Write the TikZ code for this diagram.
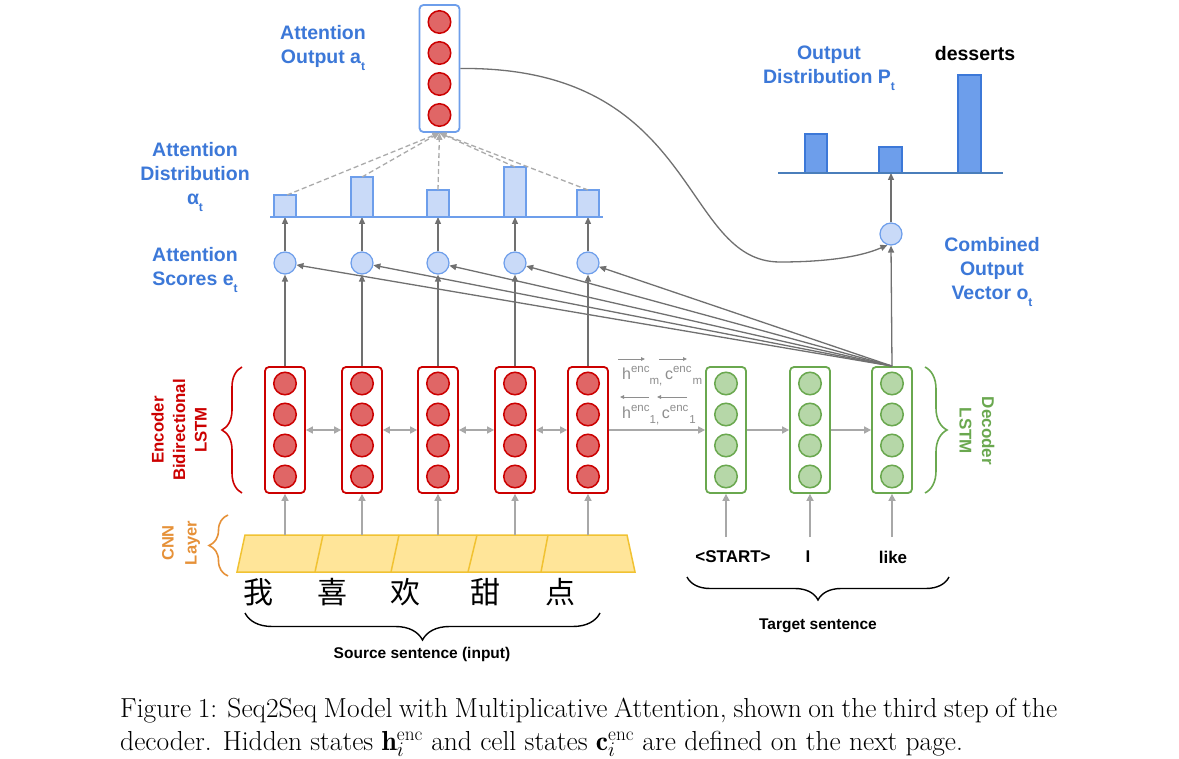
\documentclass[tikz,border=0pt]{standalone}
\usepackage{fontspec}
\newfontfamily\labfont{Liberation Sans}
\newfontfamily\cjk{Noto Sans CJK SC}
\usetikzlibrary{arrows.meta,decorations.pathreplacing,calc}

\definecolor{encred}{HTML}{CC0000}
\definecolor{encfill}{HTML}{E06666}
\definecolor{decgreen}{HTML}{6AA84F}
\definecolor{decfill}{HTML}{B6D7A8}
\definecolor{scoreline}{HTML}{6D9EEB}
\definecolor{scorefill}{HTML}{C9DAF8}
\definecolor{labblue}{HTML}{3C78D8}
\definecolor{outbar}{HTML}{6D9EEB}
\definecolor{outedge}{HTML}{3C78D8}
\definecolor{outbase}{HTML}{4A7EBB}
\definecolor{cnnfill}{HTML}{FFE599}
\definecolor{cnnedge}{HTML}{F1C232}
\definecolor{cnnlab}{HTML}{E69138}
\definecolor{lgray}{HTML}{A8A8A8}
\definecolor{dgray}{HTML}{707070}
\definecolor{dashgray}{HTML}{ABABAB}
\definecolor{vecgray}{HTML}{8E8E8E}

\newcommand\fsz[2]{\fontsize{#1}{#2}\selectfont}
\newcommand\lowsub[1]{\raisebox{-0.38em}{\fsz{12}{12}#1}}
\newcommand\supx[1]{\raisebox{7pt}{\fsz{11.5}{12}#1}}
\newcommand\subx[1]{\raisebox{-5pt}{\fsz{11.5}{12}#1}}

\begin{document}
\begin{tikzpicture}[x=1pt,y=-1pt,
  encbox/.style={draw=encred,line width=1.8pt,rounded corners=4pt,fill=white,
    minimum width=40pt,minimum height=126pt,inner sep=0pt},
  decbox/.style={encbox,draw=decgreen},
  aobox/.style={encbox,draw=scoreline,minimum height=127pt},
  redball/.style={circle,minimum size=22.5pt,inner sep=0pt,fill=encfill,draw=encred,line width=1.5pt},
  greenball/.style={redball,fill=decfill,draw=decgreen},
  blueball/.style={circle,minimum size=22pt,inner sep=0pt,fill=scorefill,draw=scoreline,line width=1.2pt},
  lar/.style={draw=lgray,line width=1.6pt,-{Triangle[length=7pt,width=7pt]}},
  lbar/.style={draw=lgray,line width=1.6pt,{Triangle[length=7pt,width=7pt]}-{Triangle[length=7pt,width=7pt]}},
  dar/.style={draw=dgray,line width=1.3pt,-{Triangle[length=7pt,width=6pt]}},
  dashar/.style={draw=dashgray,line width=1.3pt,dash pattern=on 5pt off 3pt,-{Triangle[length=7pt,width=6pt]}},
  vecar/.style={draw=vecgray,line width=0.9pt,-{Triangle[length=4pt,width=3.5pt]}},
  attbar/.style={fill=scorefill,draw=scoreline,line width=2pt},
  outbarst/.style={fill=outbar,draw=outedge,line width=2pt},
  lab/.style={font={\labfont\bfseries\fsz{19.5}{24}},text=labblue,align=center,inner sep=0pt},
  word/.style={font={\labfont\bfseries\fsz{17}{20}},text=black,inner sep=0pt},
  sent/.style={font={\labfont\bfseries\fsz{15.5}{18}},text=black,inner sep=0pt},
  vec/.style={font={\labfont\fsz{16}{20}},text=vecgray,inner sep=0pt,anchor=base west},
  bracest/.style={decorate,decoration={brace,amplitude=#1},line width=1.6pt},
  capst/.style={anchor=base west,inner sep=0pt,font=\fsz{27.5}{33}}
]
\useasboundingbox (0,0) rectangle (1179,759);
\fill[white] (0,0) rectangle (1179,759);

% ---------- CNN layer ----------
\filldraw[fill=cnnfill,draw=cnnedge,line width=1.5pt]
  (245,535) -- (627,535) -- (635,572) -- (237,572) -- cycle;
\foreach \xt/\xb in {323/315,399/391,477/468,548/541}
  \draw[cnnedge,line width=1.5pt] (\xt,535) -- (\xb,572);

% ---------- encoder ----------
\foreach \i/\x in {1/285,2/362,3/438,4/515,5/588}{
  \node[encbox] (e\i) at (\x,430) {};
  \foreach \j/\dy in {1/-46.5,2/-15.5,3/15.5,4/46.5}
    \node[redball] (e\i c\j) at (\x,430+\dy) {};
  \coordinate (c\i) at (\x,535);
  \node[blueball] (s\i) at (\x,263) {};
  \coordinate (b\i) at (\x,217);
}
\foreach \i in {1,...,5} \draw[lar] (c\i) -- (e\i.south);
\foreach \i/\j in {1/2,2/3,3/4,4/5} \draw[lbar] (e\i.east) -- (e\j.west);

% ---------- decoder ----------
\foreach \i/\x in {1/726,2/810,3/892}{
  \node[decbox] (d\i) at (\x,430) {};
  \foreach \j/\dy in {1/-46.5,2/-15.5,3/15.5,4/46.5}
    \node[greenball] (d\i c\j) at (\x,430+\dy) {};
  \coordinate (wt\i) at (\x,537);
}
\draw[lar] (e5.east) -- (d1.west);
\draw[lar] (d1.east) -- (d2.west);
\draw[lar] (d2.east) -- (d3.west);
\foreach \i in {1,2,3} \draw[lar] (wt\i) -- (d\i.south);

% encoder final states passed to the decoder
\node[vec] (hm) at (622,380) {h\supx{enc}\subx{m,}\,c\supx{enc}\hspace{1pt}\subx{m}};
\node[vec] (h1) at (622,419) {h\supx{enc}\subx{1,}\,c\supx{enc}\hspace{1pt}\subx{1}};
\coordinate (va1) at (618,359); \coordinate (vb1) at (645,359);
\coordinate (va2) at (659,359); \coordinate (vb2) at (687,359);
\coordinate (va3) at (649,397); \coordinate (vb3) at (620,397);
\coordinate (va4) at (687,397); \coordinate (vb4) at (657,397);
\foreach \k in {1,...,4} \draw[vecar] (va\k) -- (vb\k);

% ---------- attention ----------
\foreach \i in {1,...,5} \draw[dar] (e\i.north) -- (s\i.south);
\foreach \i in {1,...,5} \draw[dar] (s\i.north) -- (b\i);
\foreach \i in {1,...,5} \draw[dar] (d3.north) -- (s\i);

\draw[attbar] (274,217) rectangle (296,195);
\draw[attbar] (351,217) rectangle (373,177);
\draw[attbar] (427,217) rectangle (449,190);
\draw[attbar] (504,217) rectangle (526,167);
\draw[attbar] (577,217) rectangle (599,190);
\draw[scoreline,line width=2.2pt] (270,217) -- (603,217);
\coordinate (t1) at (287,195);
\coordinate (t2) at (362,177);
\coordinate (t3) at (438,190);
\coordinate (t4) at (515,167);
\coordinate (t5) at (588,190);

\node[aobox] (ao) at (439.5,68.5) {};
\foreach \j/\yy in {1/22,2/53,3/84,4/115}
  \node[redball] (ao c\j) at (439.5,\yy) {};
\foreach \i in {1,...,5} \draw[dashar] (t\i) -- (ao.south);

% ---------- combined output and prediction ----------
\node[blueball] (oc) at (891,234) {};
\draw[dar] (d3.north) -- (oc.south);
\coordinate (pb) at (891,173);
\draw[dar] (oc.north) -- (pb);
\coordinate (cv) at (780,262);
\draw[draw=dgray,line width=1.3pt,-{Triangle[length=7pt,width=6pt]}]
  (ao.east) .. controls (700,66) and (680,262) .. (cv)
  .. controls (820,262) and (858,258) .. (oc.252);

\draw[outbarst] (805,173) rectangle (827,134);
\draw[outbarst] (879,173) rectangle (902,147);
\draw[outbarst] (958,173) rectangle (981,75);
\draw[outbase,line width=2pt] (778,173) -- (1003,173);

% ---------- labels ----------
\node[lab] (lao) at (323,48) {Attention\\Output a\lowsub{t}};
\node[lab] (lad) at (195,177) {Attention\\Distribution\\α\lowsub{t}};
\node[lab] (las) at (195,270) {Attention\\Scores e\lowsub{t}};
\node[lab] (lod) at (829,68) {Output\\Distribution P\lowsub{t}};
\node[lab,text=black] (lds) at (975,54) {desserts};
\node[lab] (lco) at (992,272) {Combined\\Output\\Vector o\lowsub{t}};

\node[rotate=90,align=center,text=encred,inner sep=0pt,
  font={\labfont\bfseries\fsz{16.8}{21.5}}] (lenc) at (179,430) {Encoder\\Bidirectional\\LSTM};
\node[rotate=-90,align=center,text=decgreen,inner sep=0pt,
  font={\labfont\bfseries\fsz{17}{22.5}}] (ldec) at (977,431) {Decoder\\LSTM};
\node[rotate=90,align=center,text=cnnlab,inner sep=0pt,
  font={\labfont\bfseries\fsz{16.5}{23}}] (lcnn) at (181,543) {CNN\\Layer};

\draw[bracest=20pt,encred] (242,493) -- (242,367);
\draw[bracest=22pt,decgreen] (925,367) -- (925,493);
\draw[bracest=19pt,cnnlab] (228,576) -- (228,515);

% source words
\foreach \i/\x/\ch in {1/258/我,2/332/喜,3/405/欢,4/485/甜,5/560/点}
  \node[inner sep=0pt,font={\cjk\fsz{30}{30}}] (src\i) at (\x,592) {\ch};
\draw[bracest=27pt,black,line width=1.4pt] (600,613) -- (245,613);
\node[sent] (lsrc) at (422,654) {Source sentence (input)};

% target words
\node[word] (w1) at (733,557) {<START>};
\node[word] (w2) at (808,557) {I};
\node[word] (w3) at (893,557) {like};
\draw[bracest=23pt,black,line width=1.4pt] (949,577) -- (687,577);
\node[sent] (ltgt) at (818,626) {Target sentence};

% ---------- caption ----------
\node[capst] (cap1) at (120,717)
  {\makebox[937pt][s]{Figure 1: Seq2Seq Model with Multiplicative Attention, shown on the third step of the}};
\node[capst] (cap2) at (120,750)
  {decoder. Hidden states $\mathbf{h}_i^{\mathrm{enc}}$ and cell states $\mathbf{c}_i^{\mathrm{enc}}$ are defined on the next page.};
\end{tikzpicture}
\end{document}
